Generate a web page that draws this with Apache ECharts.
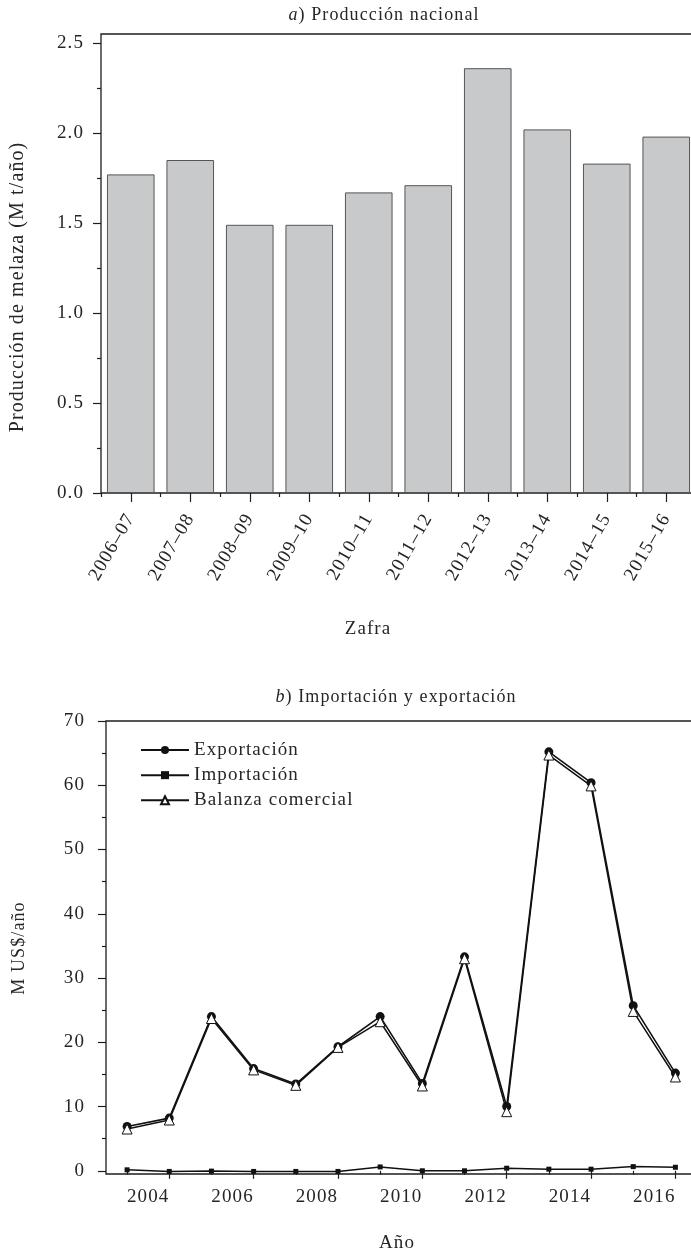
<!DOCTYPE html>
<html>
<head>
<meta charset="utf-8">
<script src="https://cdn.jsdelivr.net/npm/echarts@6/dist/echarts.min.js"></script>
<style>
html,body{margin:0;padding:0;background:#fff;}
#c{width:691px;height:1255px;}
</style>
</head>
<body>
<div id="c"></div>
<script>
// slight letter spacing, as in the reference typesetting
(function(){
  var P = CanvasRenderingContext2D.prototype;
  var f = P.fillText, m = P.measureText;
  function sp(ctx){ try { ctx.letterSpacing = '1.1px'; } catch(e){} }
  P.fillText = function(){ sp(this); return f.apply(this, arguments); };
  P.measureText = function(){ sp(this); return m.apply(this, arguments); };
})();

// ---- Chart a) data ----
var zafras = ['2006–07','2007–08','2008–09','2009–10','2010–11','2011–12','2012–13','2013–14','2014–15','2015–16'];
var produccion = [1.77, 1.85, 1.49, 1.49, 1.67, 1.71, 2.36, 2.02, 1.83, 1.98];
var prodTicks = [0, 0.5, 1.0, 1.5, 2.0, 2.5];
var prodMinorTicks = [0.25, 0.75, 1.25, 1.75, 2.25];

// ---- Chart b) data ----
var anios = [2003.5, 2004.5, 2005.5, 2006.5, 2007.5, 2008.5, 2009.5, 2010.5, 2011.5, 2012.5, 2013.5, 2014.5, 2015.5, 2016.5];
var exportacion = [6.9, 8.2, 24.0, 15.9, 13.5, 19.3, 24.0, 13.6, 33.3, 10.0, 65.2, 60.4, 25.7, 15.2];
var importacion = [0.15, -0.1, -0.05, -0.1, -0.1, -0.1, 0.6, 0.0, 0.0, 0.4, 0.25, 0.25, 0.65, 0.55];
var balanza = [6.5, 7.9, 23.7, 15.7, 13.3, 19.2, 23.2, 13.2, 33.0, 9.2, 64.7, 59.9, 24.8, 14.6];
var yearLabels = [2004, 2006, 2008, 2010, 2012, 2014, 2016];
var yearMajorTicks = [2004.5, 2006.5, 2008.5, 2010.5, 2012.5, 2014.5, 2016.5];
var yearMinorTicks = [2003.5, 2005.5, 2007.5, 2009.5, 2011.5, 2013.5, 2015.5];
var usdTicks = [0, 10, 20, 30, 40, 50, 60, 70];
var usdMinorTicks = [5, 15, 25, 35, 45, 55, 65];

var FONT = 'Liberation Serif';
var TXT = '#262626';
var AX = '#1e1e1e';

function pairs(xs, ys){ return xs.map(function(x, i){ return [x, ys[i]]; }); }

var chart = echarts.init(document.getElementById('c'), null, {renderer: 'canvas'});

var lbl = {fontFamily: FONT, fontSize: 19, color: TXT};

chart.setOption({
  animation: false,
  backgroundColor: '#fff',
  textStyle: {fontFamily: FONT},
  grid: [
    {left: 101, top: 34, width: 595, height: 459, show: true, borderColor: AX, borderWidth: 1.3, backgroundColor: 'transparent', outerBoundsMode: 'none', containLabel: false},
    {left: 106, top: 721, width: 590.5, height: 453, show: true, borderColor: AX, borderWidth: 1.3, backgroundColor: 'transparent', outerBoundsMode: 'none', containLabel: false}
  ],
  xAxis: [
    {gridIndex: 0, type: 'category', position: 'bottom', data: zafras, offset: 3,
     axisLine: {show: false},
     axisTick: {show: true, alignWithLabel: true, length: 9, lineStyle: {color: AX, width: 1.2}},
     axisLabel: {interval: 0, rotate: 60, margin: 19, fontSize: 19, fontFamily: FONT, color: TXT},
     splitLine: {show: false}},
    {gridIndex: 0, type: 'category', position: 'bottom', data: zafras, offset: 3,
     axisLine: {show: false},
     axisTick: {show: true, alignWithLabel: false, interval: 0, length: 4, lineStyle: {color: AX, width: 1.2}},
     axisLabel: {show: false}, splitLine: {show: false}},
    {gridIndex: 1, type: 'value', position: 'bottom', min: 2003, max: 2017,
     axisLine: {show: false},
     axisTick: {show: true, customValues: yearMajorTicks, length: 8, lineStyle: {color: AX, width: 1.2}},
     axisLabel: Object.assign({customValues: yearLabels, margin: 13, formatter: function(v){ return String(v); }}, lbl),
     splitLine: {show: false}},
    {gridIndex: 1, type: 'value', position: 'bottom', min: 2003, max: 2017,
     axisLine: {show: false},
     axisTick: {show: true, customValues: yearMinorTicks, length: 4, lineStyle: {color: AX, width: 1.2}},
     axisLabel: {show: false}, splitLine: {show: false}}
  ],
  yAxis: [
    {gridIndex: 0, type: 'value', position: 'left', min: 0, max: 2.55,
     axisLine: {show: false},
     axisTick: {show: true, customValues: prodTicks, length: 8, lineStyle: {color: AX, width: 1.2}},
     axisLabel: Object.assign({customValues: prodTicks, margin: 17, formatter: function(v){ return v.toFixed(1); }}, lbl),
     splitLine: {show: false}},
    {gridIndex: 0, type: 'value', position: 'left', min: 0, max: 2.55,
     axisLine: {show: false},
     axisTick: {show: true, customValues: prodMinorTicks, length: 4, lineStyle: {color: AX, width: 1.2}},
     axisLabel: {show: false}, splitLine: {show: false}},
    {gridIndex: 1, type: 'value', position: 'left', min: -0.5, max: 70,
     axisLine: {show: false},
     axisTick: {show: true, customValues: usdTicks, length: 8, lineStyle: {color: AX, width: 1.2}},
     axisLabel: Object.assign({customValues: usdTicks, margin: 21, formatter: function(v){ return String(v); }}, lbl),
     splitLine: {show: false}},
    {gridIndex: 1, type: 'value', position: 'left', min: -0.5, max: 70,
     axisLine: {show: false},
     axisTick: {show: true, customValues: usdMinorTicks, length: 4, lineStyle: {color: AX, width: 1.2}},
     axisLabel: {show: false}, splitLine: {show: false}}
  ],
  legend: {
    left: 135, top: 735, orient: 'vertical',
    itemWidth: 48, itemHeight: 10, itemGap: 5,
    textStyle: {fontFamily: FONT, fontSize: 19, color: TXT, lineHeight: 20},
    data: ['Exportación', 'Importación', 'Balanza comercial']
  },
  series: [
    {type: 'bar', name: 'Producción', xAxisIndex: 0, yAxisIndex: 0, data: produccion,
     barCategoryGap: '20%',
     itemStyle: {color: '#c8c9cb', borderColor: '#555', borderWidth: 1}},
    {type: 'line', name: 'Exportación', xAxisIndex: 2, yAxisIndex: 2, data: pairs(anios, exportacion),
     symbol: 'circle', symbolSize: 9,
     lineStyle: {color: '#111', width: 1.6},
     itemStyle: {color: '#111', borderColor: '#111', borderWidth: 0}},
    {type: 'line', name: 'Importación', xAxisIndex: 2, yAxisIndex: 2, data: pairs(anios, importacion),
     symbol: 'rect', symbolSize: 5,
     lineStyle: {color: '#111', width: 1.5},
     itemStyle: {color: '#111', borderColor: '#111', borderWidth: 0}},
    {type: 'line', name: 'Balanza comercial', xAxisIndex: 2, yAxisIndex: 2, data: pairs(anios, balanza),
     symbol: 'triangle', symbolSize: 10,
     lineStyle: {color: '#111', width: 1.5},
     itemStyle: {color: '#fff', borderColor: '#111', borderWidth: 1}}
  ],
  graphic: [
    {type: 'text', x: 384, y: 15, style: {text: '{i|a}) Producción nacional', align: 'center', verticalAlign: 'middle',
      fontFamily: FONT, fontSize: 18, fill: TXT,
      rich: {i: {fontStyle: 'italic', fontFamily: FONT, fontSize: 18, fill: TXT}}}},
    {type: 'text', x: 368, y: 629, style: {text: 'Zafra', align: 'center', verticalAlign: 'middle', fontFamily: FONT, fontSize: 19, fill: TXT}},
    {type: 'text', x: 18, y: 287, rotation: Math.PI / 2, style: {text: 'Producción de melaza (M t/año)', align: 'center', verticalAlign: 'middle', fontFamily: FONT, fontSize: 20, fill: TXT}},
    {type: 'text', x: 396, y: 697, style: {text: '{i|b}) Importación y exportación', align: 'center', verticalAlign: 'middle',
      fontFamily: FONT, fontSize: 18, fill: TXT,
      rich: {i: {fontStyle: 'italic', fontFamily: FONT, fontSize: 18, fill: TXT}}}},
    {type: 'text', x: 19.5, y: 948, rotation: Math.PI / 2, style: {text: 'M US$/año', align: 'center', verticalAlign: 'middle', fontFamily: FONT, fontSize: 18, fill: TXT}},
    {type: 'text', x: 397, y: 1243, style: {text: 'Año', align: 'center', verticalAlign: 'middle', fontFamily: FONT, fontSize: 19, fill: TXT}}
  ]
});
</script>
</body>
</html>
